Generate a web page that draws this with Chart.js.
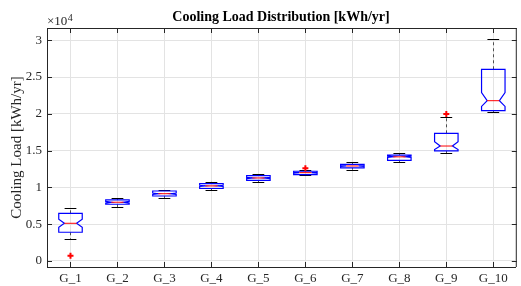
<!DOCTYPE html>
<html>
<head>
<meta charset="utf-8">
<script src="https://cdn.jsdelivr.net/npm/chart.js@4.4.1/dist/chart.umd.min.js"></script>
<style>
  html, body { margin: 0; padding: 0; background: #fff; }
  #wrap { width: 521px; height: 286px; }
</style>
</head>
<body>
<div id="wrap"><canvas id="chart" width="521" height="286"></canvas></div>
<script>
// groups on the x axis
const groups = ['G_1', 'G_2', 'G_3', 'G_4', 'G_5', 'G_6', 'G_7', 'G_8', 'G_9', 'G_10'];

// box statistics, kWh/yr
const whiskerLo = [2990, 7300, 8520, 9610, 10730, 11640, 12400, 13430, 14670, 20240];
const q1        = [3900, 7710, 8830, 9850, 10960, 11730, 12640, 13680, 14950, 20420];
const notchLo   = [4580, 7860, 9040, 10120, 11200, 11950, 12850, 14060, 15150, 21000];
const median    = [5120, 7980, 9140, 10200, 11280, 12000, 12910, 14150, 15620, 21780];
const notchHi   = [5670, 8100, 9240, 10280, 11360, 12050, 12970, 14240, 16200, 22870];
const q3        = [6480, 8290, 9510, 10500, 11590, 12190, 13140, 14380, 17350, 26050];
const whiskerHi = [7240, 8520, 9650, 10750, 11780, 12360, 13410, 14630, 19600, 30120];

// outliers
const outlierGroup = [1, 6, 9];
const outlierValue = [720, 12590, 19970];

// y tick values
const yTicks = [0, 5000, 10000, 15000, 20000, 25000, 30000];

const FONT = "'Liberation Serif', 'Times New Roman', serif";
const AXIS = '#262626';

const boxPlugin = {
  id: 'boxes',
  beforeDatasetsDraw(chart) {
    const { ctx, scales: { x, y } } = chart;
    const px = (v) => x.getPixelForValue(v);
    const py = (v) => y.getPixelForValue(v);
    ctx.save();
    groups.forEach((g, i) => {
      const c = i + 1;
      const bl = px(c - 0.25), br = px(c + 0.25);
      const nl = px(c - 0.13), nr = px(c + 0.13);
      const cl = px(c - 0.125), cr = px(c + 0.125);
      const xc = Math.round(px(c)) + 0.5;

      // whiskers
      ctx.strokeStyle = 'rgba(0,0,0,0.65)';
      ctx.lineWidth = 1;
      ctx.setLineDash([3, 3]);
      ctx.beginPath();
      ctx.moveTo(xc, py(q3[i]));
      ctx.lineTo(xc, py(whiskerHi[i]));
      ctx.moveTo(xc, py(q1[i]));
      ctx.lineTo(xc, py(whiskerLo[i]));
      ctx.stroke();
      ctx.setLineDash([]);

      // caps
      ctx.strokeStyle = '#000';
      ctx.beginPath();
      ctx.moveTo(cl, Math.round(py(whiskerHi[i])) + 0.5);
      ctx.lineTo(cr, Math.round(py(whiskerHi[i])) + 0.5);
      ctx.moveTo(cl, Math.round(py(whiskerLo[i])) + 0.5);
      ctx.lineTo(cr, Math.round(py(whiskerLo[i])) + 0.5);
      ctx.stroke();

      // notched box
      ctx.strokeStyle = '#0000ff';
      ctx.lineWidth = 1.2;
      ctx.beginPath();
      ctx.moveTo(bl, py(q1[i]));
      ctx.lineTo(bl, py(notchLo[i]));
      ctx.lineTo(nl, py(median[i]));
      ctx.lineTo(bl, py(notchHi[i]));
      ctx.lineTo(bl, py(q3[i]));
      ctx.lineTo(br, py(q3[i]));
      ctx.lineTo(br, py(notchHi[i]));
      ctx.lineTo(nr, py(median[i]));
      ctx.lineTo(br, py(notchLo[i]));
      ctx.lineTo(br, py(q1[i]));
      ctx.closePath();
      ctx.stroke();

      // median
      ctx.strokeStyle = '#ff0000';
      ctx.lineWidth = 1;
      ctx.beginPath();
      ctx.moveTo(nl, py(median[i]));
      ctx.lineTo(nr, py(median[i]));
      ctx.stroke();
    });
    ctx.restore();
  },
  afterDraw(chart) {
    const { ctx, chartArea: a, scales: { x, y } } = chart;
    const right = x.getPixelForValue(10.5);
    ctx.save();
    ctx.strokeStyle = AXIS;
    ctx.lineWidth = 1;
    ctx.beginPath();
    // top border
    ctx.moveTo(a.left, a.top + 0.5);
    ctx.lineTo(right, a.top + 0.5);
    ctx.moveTo(right - 0.5, a.top);
    ctx.lineTo(right - 0.5, a.bottom);
    // inward ticks
    groups.forEach((g, i) => {
      const xp = Math.round(x.getPixelForValue(i + 1)) + 0.5;
      ctx.moveTo(xp, a.bottom);
      ctx.lineTo(xp, a.bottom - 5);
      ctx.moveTo(xp, a.top);
      ctx.lineTo(xp, a.top + 5);
    });
    yTicks.forEach((v) => {
      const yp = Math.round(y.getPixelForValue(v)) + 0.5;
      ctx.moveTo(a.left, yp);
      ctx.lineTo(a.left + 5, yp);
      ctx.moveTo(right, yp);
      ctx.lineTo(right - 5, yp);
    });
    ctx.stroke();

    // exponent label
    ctx.fillStyle = AXIS;
    ctx.textBaseline = 'alphabetic';
    ctx.textAlign = 'left';
    ctx.font = '13px ' + FONT;
    ctx.fillText('\u00d710', 47, 25);
    const w = ctx.measureText('\u00d710').width;
    ctx.font = '10px ' + FONT;
    ctx.fillText('4', 47 + w + 0.5, 20.5);
    ctx.restore();
  }
};

new Chart(document.getElementById('chart'), {
  type: 'scatter',
  data: {
    datasets: [{
      label: 'Outliers',
      data: outlierGroup.map((g, i) => ({ x: g, y: outlierValue[i] })),
      pointStyle: 'cross',
      pointRadius: 3,
      pointBorderWidth: 2,
      borderColor: '#ff0000',
      backgroundColor: '#ff0000'
    }]
  },
  options: {
    responsive: false,
    animation: false,
    devicePixelRatio: 1,
    layout: { padding: 0 },
    plugins: {
      legend: { display: false },
      tooltip: { enabled: false },
      title: {
        display: true,
        fullSize: false,
        text: 'Cooling Load Distribution [kWh/yr]',
        color: '#000',
        font: { family: FONT, size: 14, weight: 'bold' },
        padding: { top: 8.6, bottom: 2.6 }
      }
    },
    scales: {
      x: {
        type: 'linear',
        min: 0.5,
        max: 10.462,
        afterBuildTicks: (axis) => { axis.ticks = groups.map((g, i) => ({ value: i + 1 })); },
        afterFit: (s) => { s.height = 19; },
        grid: { color: '#e3e3e3', drawTicks: false },
        border: { display: true, color: AXIS, width: 1 },
        ticks: {
          color: AXIS,
          font: { family: FONT, size: 13 },
          padding: 4,
          maxRotation: 0,
          autoSkip: false,
          callback: (v) => groups[Math.round(v) - 1]
        }
      },
      y: {
        min: -820,
        max: 31660,
        afterBuildTicks: (axis) => { axis.ticks = yTicks.map((v) => ({ value: v })); },
        afterFit: (s) => { s.width = 47; },
        grid: { color: '#e3e3e3', drawTicks: false },
        border: { display: true, color: AXIS, width: 1 },
        title: {
          display: true,
          text: 'Cooling Load [kWh/yr]',
          color: AXIS,
          font: { family: FONT, size: 15 },
          padding: { top: 8, bottom: 0 }
        },
        ticks: {
          color: AXIS,
          font: { family: FONT, size: 13 },
          padding: 5,
          callback: (v) => String(v / 10000)
        }
      }
    }
  },
  plugins: [boxPlugin]
});
</script>
</body>
</html>
